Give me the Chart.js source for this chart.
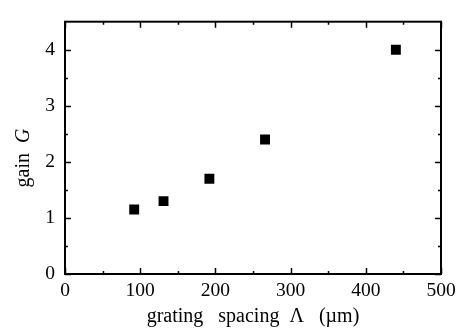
<!DOCTYPE html>
<html><head><meta charset="utf-8">
<script src="https://cdn.jsdelivr.net/npm/chart.js@4"></script>
<style>html,body{margin:0;padding:0;background:#fff}</style>
</head><body>
<canvas id="c" width="462" height="329" style="display:block;width:462px;height:329px"></canvas>
<script>
const spacing = [92, 131, 192, 266, 440];
const gain = [1.15, 1.3, 1.7, 2.4, 4.0];
const xTicks = [0, 100, 200, 300, 400, 500];
const yTicks = [0, 1, 2, 3, 4];
const xMinor = [50, 150, 250, 350, 450];
const yMinor = [0.5, 1.5, 2.5, 3.5];
const xTitle = 'grating   spacing  \u039B   (\u00B5m)';
const yTitleA = 'gain  ';
const yTitleB = 'G';

const FONT = '"Liberation Serif", "DejaVu Serif", serif';
const TICK_SIZE = 19.5;
const TITLE_SIZE = 20;

const framePlugin = {
  id: 'frame',
  afterDraw(chart) {
    const {ctx, chartArea: a, scales: {x, y}} = chart;
    ctx.save();
    ctx.strokeStyle = '#000';
    ctx.lineWidth = 2;
    ctx.strokeRect(a.left, a.top, a.right - a.left, a.bottom - a.top);
    ctx.lineWidth = 1.5;
    ctx.beginPath();
    const tx = (vals, len) => vals.forEach(v => {
      const px = Math.round(x.getPixelForValue(v)) + 0.5;
      ctx.moveTo(px, a.bottom); ctx.lineTo(px, a.bottom - len);
      ctx.moveTo(px, a.top); ctx.lineTo(px, a.top + len);
    });
    const ty = (vals, len) => vals.forEach(v => {
      const py = Math.round(y.getPixelForValue(v)) + 0.5;
      ctx.moveTo(a.left, py); ctx.lineTo(a.left + len, py);
      ctx.moveTo(a.right, py); ctx.lineTo(a.right - len, py);
    });
    tx(xTicks, 6); tx(xMinor, 3);
    ty(yTicks, 6); ty(yMinor, 3);
    ctx.stroke();
    // y title
    ctx.fillStyle = '#000';
    ctx.translate(28.5, 158);
    ctx.rotate(-Math.PI / 2);
    ctx.textBaseline = 'alphabetic';
    ctx.font = TITLE_SIZE + 'px ' + FONT;
    const wa = ctx.measureText(yTitleA).width;
    ctx.font = 'italic ' + TITLE_SIZE + 'px ' + FONT;
    const wb = ctx.measureText(yTitleB).width;
    const start = -(wa + wb) / 2;
    ctx.textAlign = 'left';
    ctx.font = TITLE_SIZE + 'px ' + FONT;
    ctx.fillText(yTitleA, start, 0);
    ctx.font = 'italic ' + TITLE_SIZE + 'px ' + FONT;
    ctx.fillText(yTitleB, start + wa, 0);
    ctx.restore();
  }
};

new Chart(document.getElementById('c'), {
  type: 'scatter',
  data: {
    datasets: [{
      data: spacing.map((v, i) => ({x: v, y: gain[i]})),
      pointStyle: 'rect',
      pointRadius: 7,
      pointHoverRadius: 7,
      borderWidth: 0,
      backgroundColor: '#000',
      borderColor: '#000'
    }]
  },
  plugins: [framePlugin],
  options: {
    responsive: false,
    animation: false,
    devicePixelRatio: 1,
    layout: {padding: {top: 11, right: 21, left: 0, bottom: 0}},
    plugins: {legend: {display: false}, tooltip: {enabled: false}},
    scales: {
      x: {
        type: 'linear', min: 0, max: 500,
        afterBuildTicks: s => { s.ticks = xTicks.map(v => ({value: v})); },
        afterFit: s => { s.height = 55; },
        grid: {display: false, drawTicks: false},
        border: {display: false},
        ticks: {color: '#000', font: {family: FONT, size: TICK_SIZE}, padding: 5, maxRotation: 0},
        title: {display: true, text: xTitle, color: '#000', font: {family: FONT, size: TITLE_SIZE}, padding: 0}
      },
      y: {
        type: 'linear', min: 0, max: 4.5,
        afterBuildTicks: s => { s.ticks = yTicks.map(v => ({value: v})); },
        afterFit: s => { s.width = 65; },
        grid: {display: false, drawTicks: false},
        border: {display: false},
        ticks: {color: '#000', font: {family: FONT, size: TICK_SIZE}, padding: 10}
      }
    }
  }
});
</script>
</body></html>
